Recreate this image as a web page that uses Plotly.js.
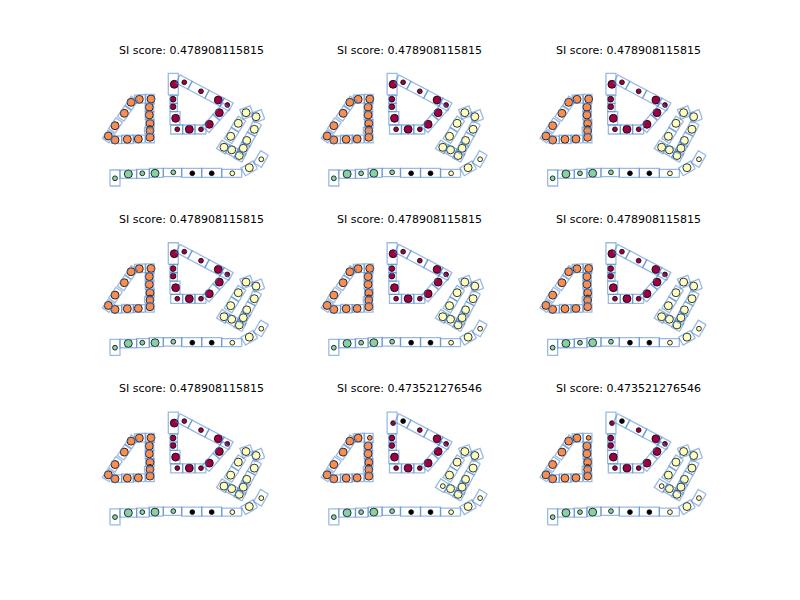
<!DOCTYPE html>
<html><head><meta charset="utf-8">
<script src="https://cdn.plot.ly/plotly-3.0.1.min.js"></script>
<style>body{margin:0;background:#fff}#chart{width:800px;height:600px}</style>
</head><body><div id="chart"></div>
<script>
// Subplot titles
const titles = [
  "SI score: 0.478908115815", "SI score: 0.478908115815", "SI score: 0.478908115815",
  "SI score: 0.478908115815", "SI score: 0.478908115815", "SI score: 0.478908115815",
  "SI score: 0.478908115815", "SI score: 0.473521276546", "SI score: 0.473521276546"
];
// which point labelling each subplot uses (A = first 7, B = last 2)
const variant = ["A","A","A","A","A","A","A","B","B"];

// Points (local units, y measured downward from the axes top)
const ptX = [31,39.3,51,49.3,49.3,50,50,50,50,24.3,15,8.3,15,27.3,38.3,
  74.3,84.3,101,118.3,127.3,119.3,109.3,101,89.3,77.3,75.7,73,73,
  146,156,138.3,154.3,130.7,146.7,124,131.7,143.3,139.3,132.3,149.3,161.3,
  15,28.3,42.3,55,73.3,
  92.3,111.7];
const ptY = [42.3,39.3,39,47.2,55,63.5,68,70.7,77.3,53.3,65.7,76,80,79.3,79,
  24.3,22.3,31.3,40,45,52.7,64.3,69.3,69.3,69.3,58.3,46.7,39.2,
  52.7,56.7,63.3,69.3,76.3,80.5,87.3,89.8,88.3,95.5,113.3,107.7,99.3,
  118.3,114,113.3,113.3,112.3,
  113.3,113.3];
// cluster labels (-1 = noise)
const labelsA = [1,1,1,1,1,1,1,1,1,1,1,1,1,1,1,
  0,0,0,0,0,0,0,0,0,0,0,0,0,
  2,2,2,2,2,2,2,2,2,2,2,2,2,
  3,3,3,3,3,
  -1,-1];
const labelsB = [1,1,1,1,1,1,1,1,1,1,1,1,1,1,1,
  0,-1,0,0,0,0,0,0,0,0,0,0,0,
  2,2,2,2,2,2,2,2,2,2,2,2,2,
  3,3,3,3,3,
  -1,-1];
// marker size class: 2 = core (large), 1 = medium, 0 = border (small)
const coreA = [2,2,2,2,2,2,0,2,2,2,2,2,2,2,2,
  2,0,0,2,0,2,2,0,2,0,2,1,1,
  2,2,2,2,2,2,2,2,2,2,0,2,0,
  0,2,0,2,0,
  0,0];
const coreB = [2,2,0,2,2,2,0,2,2,2,2,2,2,2,2,
  0,0,0,2,0,2,2,0,2,0,2,1,1,
  2,2,2,2,2,2,0,2,2,2,0,2,0,
  0,2,0,2,0,
  0,0];
const clusterColors = {"-1":"#000000","0":"#9e0142","1":"#f88e52","2":"#fefebe","3":"#89d0a5"};

// Cells (rectangles): centre, length along angle, width, angle (deg, screen)
const cellX = [31.5,24.3,15.5,8.5,40,
  50,49.5,49.5,50,48.8,50,
  16.7,27.5,39.2,
  73.3,73.7,73.7,75,
  76.7,88.8,100.5,
  84,98.5,114.5,126.5,
  111,121.5,
  146.7,157.8,138.5,131.5,123.5,132,140,154.5,148.5,143.5,
  15,28.3,43,56.3,72.5,91.7,111.7,131.7,149.3,161];
const cellY = [43,53.5,65.5,76.5,39,
  39,47.5,55.8,64,70.5,78.5,
  79.7,79.3,79,
  24.2,39.2,47.5,58.3,
  69.5,69.5,69.5,
  22.1,29.8,38.2,44.6,
  63.5,51.5,
  52.5,56.2,64,75.5,87,91,96,68.5,79.5,88.5,
  118,114.2,113.8,112.8,112.5,112.8,112.8,113.3,108.3,99];
const cellLen = [11,13,13,10,10.5,
  9,8.3,8.3,8.3,6,8.5,
  10,11.7,11.7,
  21.7,8.3,8.3,13.3,
  12,12.3,11,
  13.6,19.2,17,10.2,
  16,15,
  11,11,13,13,10,10,9,13,12,11,
  16,16.7,12.7,14,18.3,20,20,20,14,14];
const cellWid = [8,8,8,8,8.5,
  8.5,8.5,8.5,8.5,8.5,8.5,
  7.5,8.3,7.7,
  10,7.3,7.3,10,
  9,9,9,
  9,9,9,9,
  9,9,
  10,10,9,9,10,9,9,9,9,9,
  10,8.3,9,9,8.3,9,9,8,9,9];
const cellAng = [-56,-56,-56,-56,-3,
  90,90,90,90,90,90,
  2,1,0,
  90,90,90,90,
  0,0,0,
  27.8,27.8,27.8,27.8,
  -49,-49,
  -20,-20,-57.5,-57.5,-57.5,28,28,-63,-63,-63,
  90,0,0,0,0,0,0,0,-30,-60];

const axW = 182.35, axH = 141.18;
const colLeft = [100, 318.82, 537.65];
const rowTop = [60, 229.41, 398.82];

function cellPath() {
  const xs = [], ys = [];
  for (let i = 0; i < cellX.length; i++) {
    const a = cellAng[i] * Math.PI / 180;
    const dx = Math.cos(a), dy = Math.sin(a);
    const nx = -dy, ny = dx;
    const hl = cellLen[i] / 2, hw = cellWid[i] / 2;
    const pts = [[hl,hw],[hl,-hw],[-hl,-hw],[-hl,hw],[hl,hw]];
    for (const [s,t] of pts) {
      xs.push(cellX[i] + dx*s + nx*t);
      ys.push(cellY[i] + dy*s + ny*t);
    }
    xs.push(null); ys.push(null);
  }
  return {xs, ys};
}

const sizeMap = {0:4.8, 1:5.8, 2:8};
const traces = [];
const layout = {
  width: 800, height: 600,
  margin: {l:0, r:0, t:0, b:0},
  paper_bgcolor: "#ffffff", plot_bgcolor: "#ffffff",
  showlegend: false,
  font: {family: "DejaVu Sans", color: "#000000"},
  annotations: []
};
const cp = cellPath();
for (let k = 0; k < 9; k++) {
  const r = Math.floor(k / 3), c = k % 3;
  const sfx = k === 0 ? "" : String(k + 1);
  const labels = variant[k] === "A" ? labelsA : labelsB;
  const core = variant[k] === "A" ? coreA : coreB;
  traces.push({
    type: "scatter", mode: "markers", x: ptX, y: ptY,
    xaxis: "x" + sfx, yaxis: "y" + sfx, hoverinfo: "skip",
    marker: {
      color: labels.map(l => clusterColors[String(l)]),
      size: core.map(s => sizeMap[s]),
      opacity: 1,
      line: {color: "#000000", width: 0.8}
    }
  });
  traces.push({
    type: "scatter", mode: "lines", x: cp.xs, y: cp.ys,
    xaxis: "x" + sfx, yaxis: "y" + sfx, hoverinfo: "skip",
    line: {color: "rgba(70,130,205,0.55)", width: 1.3},
    connectgaps: false
  });
  const x0 = colLeft[c] / 800, x1 = (colLeft[c] + axW) / 800;
  const y1 = 1 - rowTop[r] / 600, y0 = 1 - (rowTop[r] + axH) / 600;
  const ax = {domain: [x0, x1], range: [0, axW], visible: false, fixedrange: true,
    anchor: "y" + sfx};
  const ay = {domain: [y0, y1], range: [axH, 0], visible: false, fixedrange: true,
    anchor: "x" + sfx};
  layout["xaxis" + sfx] = ax;
  layout["yaxis" + sfx] = ay;
  layout.annotations.push({
    text: titles[k], showarrow: false, xref: "paper", yref: "paper",
    x: (x0 + x1) / 2, y: 1 - (rowTop[r] - 10) / 600,
    xanchor: "center", yanchor: "middle",
    font: {size: 11, family: "DejaVu Sans", color: "#000000"}
  });
}
Plotly.newPlot("chart", traces, layout, {staticPlot: true, displayModeBar: false});
</script>
</body></html>
